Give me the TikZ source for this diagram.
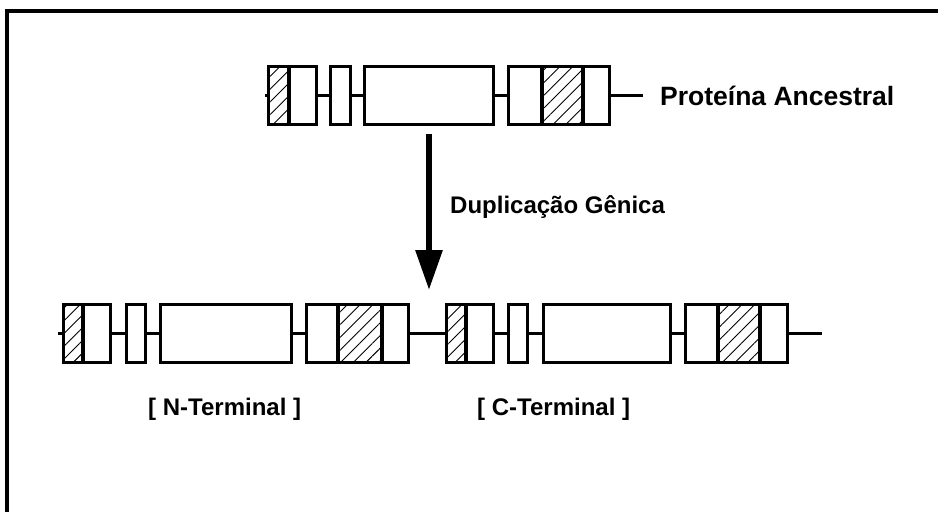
\documentclass[tikz,border=0pt]{standalone}
\usepackage{fontspec}
\setmainfont{Liberation Sans}
\usetikzlibrary{arrows.meta,patterns.meta}
\newcommand\segnode[5][segbox]{\node[#1,minimum width={(#4-#3)*1pt}] (#2) at ({(#3+#4)/2},#5) {};}
\begin{document}
\begin{tikzpicture}[x=1pt,y=-1pt,
  segbox/.style={draw,line width=3.6pt,inner sep=0pt,minimum height=58pt},
  hatchbox/.style={segbox,pattern={Lines[angle=45,distance=9pt,line width=0.9pt]}},
  conn/.style={line width=3.4pt},
  lbl/.style={font=\fontsize{24}{28}\selectfont\bfseries,inner sep=0pt,anchor=base west},
  frameline/.style={line width=4pt},
  bigarrow/.style={line width=6pt,-{Triangle[length=40pt,width=26pt]}}]
\useasboundingbox (0,0) rectangle (938,512);
% frame
\draw[frameline] (938,11) -- (6.5,11) -- (6.5,512);
% ancestral protein
\segnode[hatchbox]{T1a}{268.5}{289}{95.5}
\segnode{T1b}{289}{316.5}{95.5}
\segnode{T2}{330.5}{350.5}{95.5}
\segnode{T3}{364.5}{493.5}{95.5}
\segnode{T4a}{508.5}{542}{95.5}
\segnode[hatchbox]{T4b}{542}{583}{95.5}
\segnode{T4c}{583}{609.5}{95.5}
\coordinate (tl) at (265,95.5);
\coordinate (tr) at (643,95.5);
\draw[conn] (tl) -- (T1a.west);
\draw[conn] (T1b.east) -- (T2.west);
\draw[conn] (T2.east) -- (T3.west);
\draw[conn] (T3.east) -- (T4a.west);
\draw[conn] (T4c.east) -- (tr);
\node[lbl,font=\fontsize{26.5}{30}\selectfont\bfseries] (anc) at (660,105) {Proteína Ancestral};
% arrow
\coordinate (as) at (429,134);
\coordinate (ae) at (429,290);
\draw[bigarrow] (as) -- (ae);
\node[lbl] (dup) at (450,213) {Duplicação Gênica};
% N-terminal copy
\segnode[hatchbox]{N1a}{63.5}{83}{333.5}
\segnode{N1b}{83}{110.5}{333.5}
\segnode{N2}{126.5}{145.5}{333.5}
\segnode{N3}{160.5}{291.5}{333.5}
\segnode{N4a}{306.5}{338}{333.5}
\segnode[hatchbox]{N4b}{338}{382}{333.5}
\segnode{N4c}{382}{408.5}{333.5}
% C-terminal copy
\segnode[hatchbox]{C1a}{446.5}{466}{333.5}
\segnode{C1b}{466}{493.5}{333.5}
\segnode{C2}{508.5}{527.5}{333.5}
\segnode{C3}{543.5}{670.5}{333.5}
\segnode{C4a}{685.5}{718}{333.5}
\segnode[hatchbox]{C4b}{718}{760}{333.5}
\segnode{C4c}{760}{787.5}{333.5}
\coordinate (bl) at (58,333.5);
\coordinate (br) at (822,333.5);
\draw[conn] (bl) -- (N1a.west);
\draw[conn] (N1b.east) -- (N2.west);
\draw[conn] (N2.east) -- (N3.west);
\draw[conn] (N3.east) -- (N4a.west);
\draw[conn] (N4c.east) -- (C1a.west);
\draw[conn] (C1b.east) -- (C2.west);
\draw[conn] (C2.east) -- (C3.west);
\draw[conn] (C3.east) -- (C4a.west);
\draw[conn] (C4c.east) -- (br);
\node[lbl] (nterm) at (148,415) {[ N-Terminal ]};
\node[lbl] (cterm) at (477,415) {[ C-Terminal ]};
\end{tikzpicture}
\end{document}
